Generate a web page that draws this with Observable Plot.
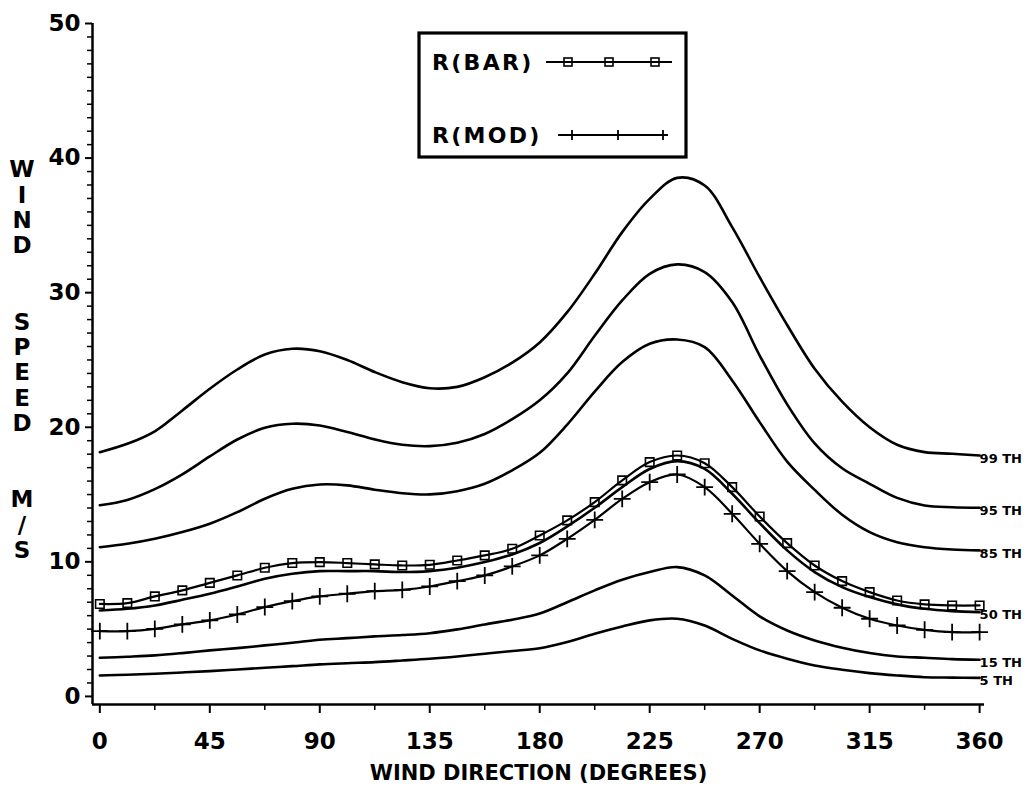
<!DOCTYPE html>
<html>
<head>
<meta charset="utf-8">
<script src="https://cdn.jsdelivr.net/npm/d3@7"></script>
<script src="https://cdn.jsdelivr.net/npm/@observablehq/plot@0.6"></script>
<style>
  html, body { margin: 0; padding: 0; background: #fff; }
  #chart svg { display: block; }
</style>
</head>
<body>
<div id="chart"></div>
<script>
// ---- data ----
const directions = [0, 11.25, 22.5, 33.75, 45, 56.25, 67.5, 78.75, 90, 101.25, 112.5, 123.75, 135,
  146.25, 157.5, 168.75, 180, 191.25, 202.5, 213.75, 225, 236.25, 247.5, 258.75, 270,
  281.25, 292.5, 303.75, 315, 326.25, 337.5, 348.75, 360];

const p99 = [18.15, 18.77, 19.7, 21.25, 22.86, 24.29, 25.4, 25.83, 25.65, 25.0, 24.1, 23.35, 22.9,
  23.0, 23.72, 24.8, 26.3, 28.55, 31.4, 34.5, 36.97, 38.53, 37.96, 34.87, 31.15,
  27.6, 24.35, 21.9, 20.0, 18.7, 18.15, 18.03, 17.9];
const p95 = [14.2, 14.6, 15.4, 16.5, 17.83, 19.09, 19.96, 20.26, 20.13, 19.65, 19.1, 18.7, 18.6,
  18.85, 19.5, 20.6, 22.0, 24.0, 26.8, 29.42, 31.4, 32.1, 31.53, 29.3, 25.33,
  21.7, 18.8, 16.95, 15.8, 14.75, 14.19, 14.06, 14.02];
const p85 = [11.09, 11.34, 11.71, 12.21, 12.83, 13.69, 14.69, 15.43, 15.75, 15.68, 15.36, 15.1, 15.01,
  15.25, 15.8, 16.8, 18.1, 20.2, 22.65, 24.84, 26.2, 26.52, 25.95, 23.48, 20.38,
  17.45, 15.35, 13.5, 12.21, 11.46, 11.09, 10.92, 10.85];
const p50 = [6.39, 6.51, 6.76, 7.18, 7.63, 8.17, 8.74, 9.11, 9.31, 9.31, 9.31, 9.24, 9.31,
  9.56, 9.98, 10.55, 11.4, 12.63, 14.02, 15.55, 16.9, 17.48, 16.9, 15.06, 12.88,
  10.85, 9.24, 8.12, 7.38, 6.84, 6.51, 6.34, 6.26];
const p15 = [2.87, 2.95, 3.05, 3.22, 3.42, 3.59, 3.79, 3.99, 4.21, 4.33, 4.46, 4.56, 4.7,
  4.98, 5.35, 5.7, 6.16, 7.0, 7.88, 8.67, 9.24, 9.61, 8.99, 7.5, 5.95,
  4.9, 4.16, 3.62, 3.22, 2.97, 2.87, 2.77, 2.72];
const p5 = [1.56, 1.61, 1.68, 1.78, 1.88, 2.0, 2.13, 2.25, 2.38, 2.47, 2.55, 2.67, 2.8,
  2.97, 3.17, 3.37, 3.58, 4.04, 4.66, 5.2, 5.65, 5.77, 5.27, 4.28, 3.42,
  2.8, 2.3, 1.98, 1.73, 1.56, 1.43, 1.4, 1.38];
const rBar = [6.87, 6.93, 7.43, 7.88, 8.44, 8.99, 9.56, 9.91, 9.98, 9.91, 9.81, 9.73, 9.78,
  10.1, 10.48, 10.97, 11.96, 13.08, 14.44, 16.05, 17.41, 17.9, 17.33, 15.55, 13.37,
  11.39, 9.73, 8.57, 7.75, 7.13, 6.84, 6.76, 6.76];
const rMod = [4.85, 4.85, 5.02, 5.35, 5.65, 6.09, 6.64, 7.08, 7.43, 7.63, 7.82, 7.92, 8.17,
  8.57, 8.99, 9.66, 10.48, 11.71, 13.12, 14.68, 15.92, 16.49, 15.55, 13.57, 11.34,
  9.31, 7.75, 6.59, 5.77, 5.27, 4.95, 4.78, 4.78];

const percentileNames = ["99 TH", "95 TH", "85 TH", "50 TH", "15 TH", "5 TH"];
const percentileValues = [p99, p95, p85, p50, p15, p5];

const xTicks = [0, 45, 90, 135, 180, 225, 270, 315, 360];
const xMinorTicks = [22.5, 67.5, 112.5, 157.5, 202.5, 247.5, 292.5, 337.5];
const yTicks = [0, 10, 20, 30, 40, 50];
const yMinorTicks = d3.range(0, 51, 1).filter(v => v % 10 !== 0);
const xDomain = [-3, 362];
const yDomain = [-0.6, 50];

const xTitle = "WIND DIRECTION (DEGREES)";
const yTitle = "WIND  SPEED  M/S";
const legendItems = ["R(BAR)", "R(MOD)"];

// ---- tables ----
const pctRows = percentileNames.flatMap((name, i) =>
  directions.map((d, j) => ({series: name, dir: d, speed: percentileValues[i][j]})));
const pctEnds = percentileNames.map((name, i) =>
  ({series: name, dir: directions[directions.length - 1], speed: percentileValues[i][directions.length - 1]}));
const barRows = directions.map((d, j) => ({dir: d, speed: rBar[j]}));
const modRows = directions.map((d, j) => ({dir: d, speed: rMod[j]}));

const font = "DejaVu Sans";

const chart = Plot.plot({
  width: 1025,
  height: 791,
  marginLeft: 92,
  marginRight: 41,
  marginTop: 23,
  marginBottom: 87,
  x: {domain: xDomain},
  y: {domain: yDomain},
  style: {fontFamily: font, fontWeight: "bold", color: "black", background: "white"},
  marks: [
    Plot.axisY(yTicks, {tickSize: 7, tickPadding: 5, fontSize: 23, fontWeight: "bold", strokeWidth: 2, label: null}),
    Plot.axisY(yMinorTicks, {tickSize: 5, text: null, label: null, strokeWidth: 1.5}),
    Plot.axisX(xTicks, {tickSize: 9, tickPadding: 19, fontSize: 23, fontWeight: "bold", strokeWidth: 2, label: null}),
    Plot.axisX(xMinorTicks, {tickSize: 6, text: null, label: null, strokeWidth: 1.5}),
    Plot.ruleX([xDomain[0]], {stroke: "black", strokeWidth: 2.5}),
    Plot.ruleY([yDomain[0]], {stroke: "black", strokeWidth: 2.5}),
    Plot.line(pctRows, {x: "dir", y: "speed", z: "series", stroke: "black", strokeWidth: 2.6, curve: "catmull-rom"}),
    Plot.text(pctEnds, {x: "dir", y: "speed", text: "series", textAnchor: "start", dy: 3, fontSize: 13, fontWeight: "bold", fill: "black"}),
    Plot.line(barRows, {x: "dir", y: "speed", stroke: "black", strokeWidth: 2.2, curve: "catmull-rom"}),
    Plot.dot(barRows, {x: "dir", y: "speed", symbol: "square", r: 4.8, stroke: "black", fill: "none", strokeWidth: 1.6}),
    Plot.line(modRows, {x: "dir", y: "speed", stroke: "black", strokeWidth: 2.2, curve: "catmull-rom"}),
    Plot.dot(modRows, {x: "dir", y: "speed", symbol: "plus", r: 5.5, stroke: "black", strokeWidth: 1.8}),
    Plot.text([xTitle], {text: d => d, frameAnchor: "bottom", dy: 75, fontSize: 21, fontWeight: "bold", fill: "black"})
  ]
});

document.getElementById("chart").appendChild(chart);

// ---- stacked y-axis title and legend box ----
const svg = d3.select(chart);
const ytg = svg.append("g").attr("font-family", font).attr("font-weight", "bold").attr("font-size", 23)
  .attr("text-anchor", "middle");
Array.from(yTitle).forEach((ch, i) => {
  if (ch === " ") return;
  ytg.append("text")
    .attr("x", 22).attr("y", 169 + i * 25.4)
    .attr("dy", "0.36em")
    .text(ch);
});

const lg = svg.append("g").attr("font-family", font).attr("font-weight", "bold").attr("text-anchor", "start");
lg.append("rect").attr("x", 419).attr("y", 33).attr("width", 267).attr("height", 124)
  .attr("fill", "white").attr("stroke", "black").attr("stroke-width", 3.2);
const rowsY = [62, 135];
legendItems.forEach((label, i) => {
  lg.append("text").attr("x", 432).attr("y", rowsY[i]).attr("dy", "0.36em")
    .attr("text-anchor", "start")
    .attr("font-size", 22).attr("letter-spacing", 2.3).text(label);
});
// R(BAR) sample
lg.append("line").attr("x1", 546).attr("x2", 672).attr("y1", rowsY[0]).attr("y2", rowsY[0])
  .attr("stroke", "black").attr("stroke-width", 2.2);
[568, 609, 655].forEach(x => {
  lg.append("rect").attr("x", x - 4).attr("y", rowsY[0] - 4).attr("width", 8).attr("height", 8)
    .attr("fill", "none").attr("stroke", "black").attr("stroke-width", 1.6);
});
// R(MOD) sample
lg.append("line").attr("x1", 558).attr("x2", 668).attr("y1", rowsY[1]).attr("y2", rowsY[1])
  .attr("stroke", "black").attr("stroke-width", 2.2);
[572, 618, 663].forEach(x => {
  lg.append("path").attr("d", `M${x - 5},${rowsY[1]}H${x + 5}M${x},${rowsY[1] - 5}V${rowsY[1] + 5}`)
    .attr("stroke", "black").attr("stroke-width", 1.8);
});
</script>
</body>
</html>
